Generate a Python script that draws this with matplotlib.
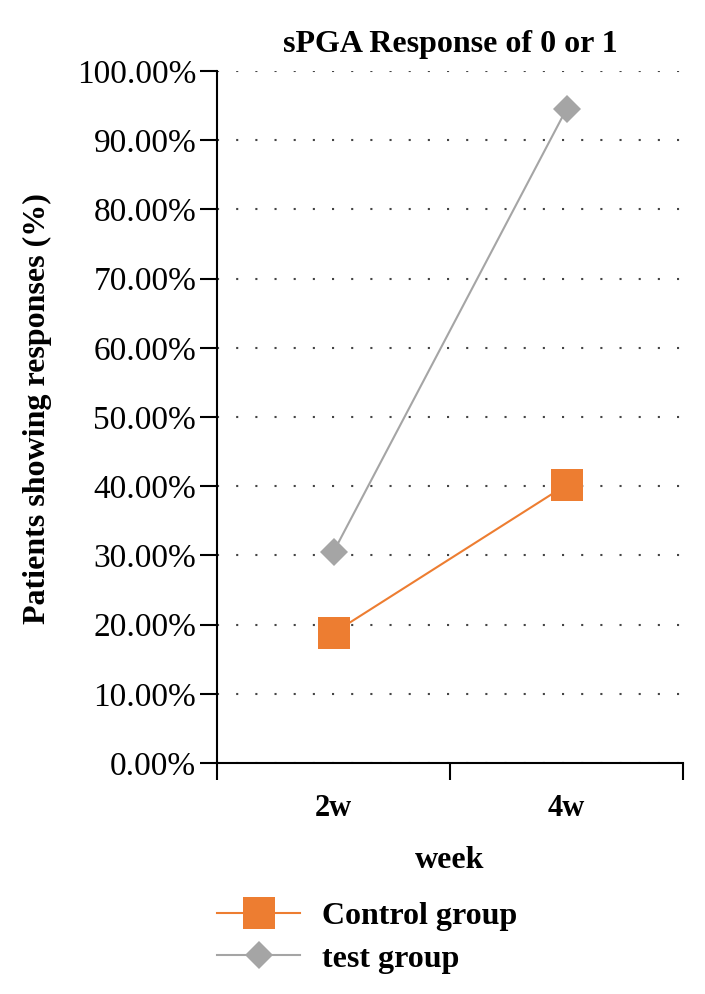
import matplotlib
matplotlib.use("Agg")
import matplotlib.pyplot as plt
from matplotlib.ticker import FixedLocator, PercentFormatter

plt.rcParams['font.family'] = ['Liberation Serif', 'DejaVu Serif']

weeks = ["2w", "4w"]
control = [18.8, 40.2]
test = [30.5, 94.5]
yticks = [0, 10, 20, 30, 40, 50, 60, 70, 80, 90, 100]

fig = plt.figure(figsize=(7.05, 9.94), dpi=100)
ax = fig.add_axes([217/705, 1-763/994, (683-217)/705, (763-71)/994])

xpos = [i + 0.5 for i in range(len(weeks))]
ax.plot(xpos, control, color="#ED7D31", lw=1.5, marker="s", ms=22.5,
        markeredgewidth=0, label="Control group", zorder=3)
ax.plot(xpos, test, color="#A5A5A5", lw=1.5, marker="D", ms=14.5,
        markeredgewidth=0, label="test group", zorder=3)

ax.set_xlim(0, len(weeks))
ax.set_ylim(0, 100)
ax.set_yticks(yticks)
ax.yaxis.set_major_formatter(PercentFormatter(decimals=2))
ax.set_xticks(range(len(weeks) + 1))
ax.set_xticklabels([])
ax.xaxis.set_minor_locator(FixedLocator(xpos))
ax.set_xticklabels(weeks, minor=True, fontweight="bold", fontsize=22)
ax.tick_params(axis="x", which="minor", length=0, pad=22)
ax.tick_params(axis="x", which="major", length=12, width=1.5, direction="out")
ax.tick_params(axis="y", length=12, width=1.5, labelsize=24, pad=3)

for s in ["top", "right"]:
    ax.spines[s].set_visible(False)
for s in ["left", "bottom"]:
    ax.spines[s].set_linewidth(1.5)

ax.yaxis.grid(True, color="#444444", linestyle=(0, (1, 8.2)), lw=1.5)
ax.set_axisbelow(True)

ax.set_title("sPGA Response of 0 or 1", fontweight="bold", fontsize=23, pad=14)
ax.set_ylabel("Patients showing responses (%)", fontweight="bold", fontsize=23)
ax.yaxis.set_label_coords((52-217)/466, (763-408.5)/692)
ax.set_xlabel("week", fontweight="bold", fontsize=23, labelpad=17)

leg = ax.legend(loc="upper left", bbox_to_anchor=(0.0, -0.2), frameon=False,
                prop={"weight": "bold", "size": 23}, handlelength=2.6,
                handletextpad=0.7, labelspacing=0.42, borderaxespad=0, borderpad=0)

fig.savefig("out.png", dpi=100)
